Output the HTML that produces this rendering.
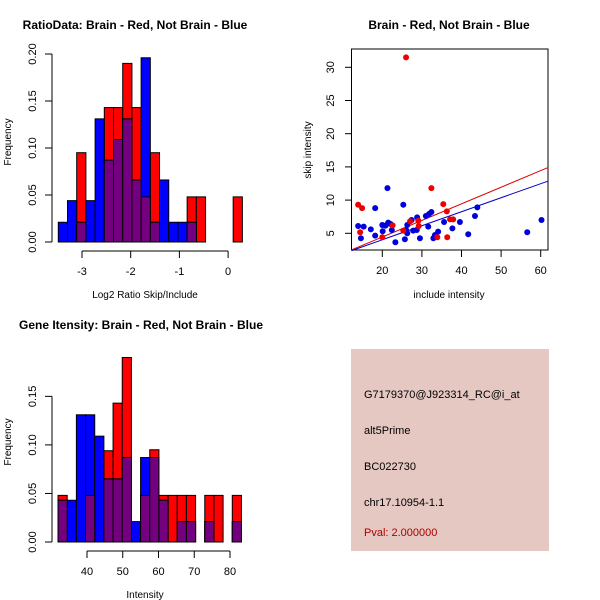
<!DOCTYPE html>
<html><head><meta charset="utf-8"><style>
body{margin:0;background:#fff;width:600px;height:600px;overflow:hidden}
svg{display:block;font-family:"Liberation Sans",Arial,sans-serif}
</style></head><body>
<svg id="s" width="600" height="600">
<rect x="351" y="349" width="198" height="202" fill="#e6c8c2"/>
<g font-size="11" fill="#000">
<text x="364" y="398">G7179370@J923314_RC@i_at</text>
<text x="364" y="434">alt5Prime</text>
<text x="364" y="470">BC022730</text>
<text x="364" y="506">chr17.10954-1.1</text>
<text x="364" y="536" fill="#aa0000">Pval: 2.000000</text>
</g>
</svg>
<script>
// ---- Ratio histogram data ----
const ratioBlue=[.021,.044,.021,.044,.131,.087,.109,.131,.066,.196,.021,.066,.021,.021,.021,0,0,0,0,0];
const ratioRed=[0,0,.095,0,0,.143,.143,.19,.143,.048,.095,0,0,0,.048,.048,0,0,0,.048];
const ratioStart=-3.487, ratioWidth=0.189;
const ratioXTicks=[-3,-2,-1,0];
const ratioYTicks=[0,0.05,0.10,0.15,0.20];
// ---- Intensity histogram data ----
const intBlue=[.043,.043,.131,.131,.109,.065,.065,.087,.021,.087,.087,.043,0,.021,.021,0,.021,0,0,.021];
const intRed=[.048,0,0,.048,0,.094,.143,.19,0,.048,.095,.048,.048,.048,.048,0,.048,.048,0,.048];
const intStart=31.9, intWidth=2.565;
const intXTicks=[40,50,60,70,80];
const intYTicks=[0,0.05,0.10,0.15];
// ---- Scatter data ----
const redX=[26.0,13.9,14.9,14.4,20,22.6,27,29.1,29.2,32.4,33.9,35.4,36.3,36.4,37.1,37.9,25.3];
const redY=[31.5,9.3,8.8,5.15,4.4,6.2,6.8,6.9,6.1,11.8,4.4,9.4,8.3,4.4,7.1,7.1,5.4];
const blueX=[13.9,14.6,15.3,17.1,18.2,18.2,20,20.1,20.8,21.3,21.5,22.1,22.4,23.3,25.3,25.7,26,26.3,26.3,27.4,27.8,28.7,28.8,29.5,31,31.6,31.8,32.4,32.9,33.3,34.1,35.6,37.7,39.6,41.7,43.4,44,56.6,60.2];
const blueY=[6.1,4.25,6,5.6,4.65,8.8,6.25,5.3,6.15,11.8,6.6,6.4,5.5,3.65,9.3,4.1,5.5,5,6.25,7,5.4,5.5,7.4,4.25,7.6,6,7.9,8.2,4.25,4.75,5.25,6.7,5.75,6.7,4.85,7.6,8.9,5.15,7.0];
const redFit=[-0.56,0.25];  // intercept, slope
const blueFit=[-0.19,0.211];
const scXTicks=[20,30,40,50,60];
const scYTicks=[5,10,15,20,25,30];

const NS="http://www.w3.org/2000/svg", svg=document.getElementById('s');
function mk(tag,attrs,parent,txt){const e=document.createElementNS(NS,tag);for(const k in attrs)e.setAttribute(k,attrs[k]);if(txt!==undefined)e.textContent=txt;(parent||svg).appendChild(e);return e;}
function grp(name){const g=mk('g',{});return g;}

function hist(o){
  const g=grp(o.name);
  const sx=v=>o.x0+(v-o.d0)*o.kx, sy=v=>o.y0-v*o.ky;
  const draw=(arr,col,nm)=>arr.forEach((v,i)=>{if(v<=0)return;const a=o.start+i*o.w;
    const r=mk('rect',{x:sx(a),y:sy(v),width:o.w*o.kx,height:v*o.ky,fill:col,stroke:'#000','stroke-width':1},g);
    
    });
  draw(o.red,'#ff0000','red');draw(o.blue,'#0000ff','blue');
  draw(o.red.map((v,i)=>Math.min(v,o.blue[i])),'#740080','overlap');
  // y axis
  const yt=o.yt;
  mk('line',{x1:52,x2:52,y1:sy(yt[0]),y2:sy(yt[yt.length-1]),stroke:'#000'},g);
  yt.forEach(t=>{mk('line',{x1:45,x2:52,y1:sy(t),y2:sy(t),stroke:'#000'},g);
    const tx=mk('text',{x:36,y:sy(t),'font-size':11,'text-anchor':'middle',transform:`rotate(-90 36 ${sy(t)})`},g,t.toFixed(2));
    });
  const xt=o.xt, ay=o.y0+9;
  mk('line',{x1:sx(xt[0]),x2:sx(xt[xt.length-1]),y1:ay,y2:ay,stroke:'#000'},g);
  xt.forEach(t=>{mk('line',{x1:sx(t),x2:sx(t),y1:ay,y2:ay+7,stroke:'#000'},g);
    const tx=mk('text',{x:sx(t),y:ay+24,'font-size':11,'text-anchor':'middle'},g,t<0?'-'+Math.abs(t):String(t));
    });
  const xl=mk('text',{x:145,y:o.y0+56,'font-size':10,'text-anchor':'middle'},g,o.xlab);
  
  const yy=o.y0-100;
  const yl=mk('text',{x:11,y:yy,'font-size':10,'text-anchor':'middle',transform:`rotate(-90 11 ${yy})`},g,'Frequency');
  
  const ti=mk('text',{x:o.tx,y:o.ty,'font-size':12,'font-weight':'bold','text-anchor':'middle'},g,o.title);
  
}
hist({name:'ratio-histogram',blue:ratioBlue,red:ratioRed,start:ratioStart,w:ratioWidth,x0:82,d0:-3,kx:48.7,y0:242,ky:940,
  xt:ratioXTicks,yt:ratioYTicks,xlab:'Log2 Ratio Skip/Include',title:'RatioData: Brain - Red, Not Brain - Blue',tx:135,ty:29});
hist({name:'intensity-histogram',blue:intBlue,red:intRed,start:intStart,w:intWidth,x0:87,d0:40,kx:3.575,y0:542,ky:971,
  xt:intXTicks,yt:intYTicks,xlab:'Intensity',title:'Gene Itensity: Brain - Red, Not Brain - Blue',tx:141,ty:329});

// scatter
(function(){
  const g=grp('scatter-plot');
  const sx=v=>382.3+(v-20)*3.96, sy=v=>233.3-(v-5)*6.64;
  mk('rect',{x:351.5,y:49,width:196.5,height:201,fill:'none',stroke:'#000'},g);
  const xmin=12.25,xmax=61.9;
  [[redFit,'#dd0000','red-fit-line'],[blueFit,'#0000cc','blue-fit-line']].forEach(([f,c,n])=>{
    const l=mk('line',{x1:sx(xmin),y1:sy(f[0]+f[1]*xmin),x2:sx(xmax),y2:sy(f[0]+f[1]*xmax),stroke:c,'stroke-width':1},g);
    });
  blueX.forEach((x,i)=>{const c=mk('circle',{cx:sx(x),cy:sy(blueY[i]),r:3,fill:'#0000dd'},g);
    });
  redX.forEach((x,i)=>{const c=mk('circle',{cx:sx(x),cy:sy(redY[i]),r:3,fill:'#ee0000'},g);
    });
  scXTicks.forEach(t=>{mk('line',{x1:sx(t),x2:sx(t),y1:250,y2:257,stroke:'#000'},g);
    const tx=mk('text',{x:sx(t),y:274,'font-size':11,'text-anchor':'middle'},g,String(t));
    });
  scYTicks.forEach(t=>{mk('line',{x1:345,x2:351.5,y1:sy(t),y2:sy(t),stroke:'#000'},g);
    const tx=mk('text',{x:334,y:sy(t),'font-size':11,'text-anchor':'middle',transform:`rotate(-90 334 ${sy(t)})`},g,String(t));
    });
  const xl=mk('text',{x:449,y:298,'font-size':10,'text-anchor':'middle'},g,'include intensity');
  
  const yl=mk('text',{x:311,y:150,'font-size':10,'text-anchor':'middle',transform:'rotate(-90 311 150)'},g,'skip intensity');
  
  const ti=mk('text',{x:449,y:29,'font-size':12,'font-weight':'bold','text-anchor':'middle'},g,'Brain - Red, Not Brain - Blue');
  
})();
</script>
</body></html>
